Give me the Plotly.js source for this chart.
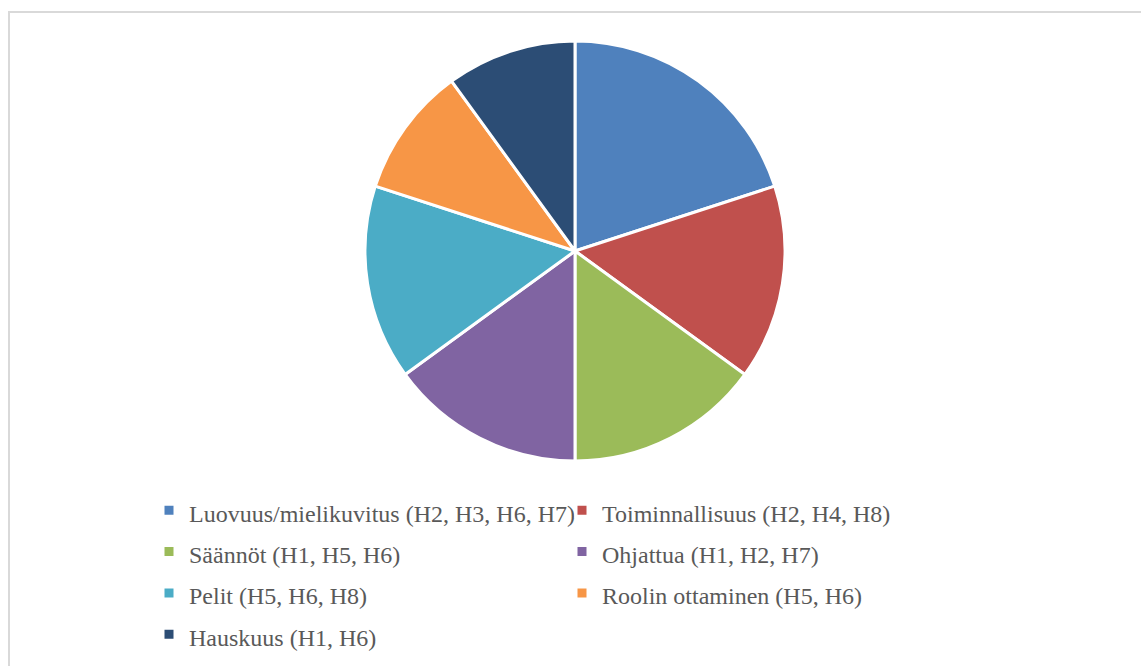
<!DOCTYPE html>
<html>
<head>
<meta charset="utf-8">
<script src="https://cdn.plot.ly/plotly-3.0.1.min.js"></script>
<style>
  html, body { margin: 0; padding: 0; background: #ffffff; }
  #wrap { position: relative; width: 1141px; height: 666px; overflow: hidden; }
  #chart { position: absolute; left: 0; top: 0; width: 1141px; height: 666px; }
  #frame { position: absolute; left: 8px; top: 11px; width: 1200px; height: 700px;
           border-left: 2px solid #d9d9d9; border-top: 2px solid #d9d9d9; pointer-events: none; }
</style>
</head>
<body>
<div id="wrap">
  <div id="chart"></div>
  <div id="frame"></div>
</div>
<script>
// Data
const categories = [
  "Luovuus/mielikuvitus (H2, H3, H6, H7)",
  "Toiminnallisuus (H2, H4, H8)",
  "Säännöt (H1, H5, H6)",
  "Ohjattua (H1, H2, H7)",
  "Pelit (H5, H6, H8)",
  "Roolin ottaminen (H5, H6)",
  "Hauskuus (H1, H6)"
];
const values = [4, 3, 3, 3, 3, 2, 2];
const colors = ["#4f81bd", "#c0504d", "#9bbb59", "#8064a2", "#4bacc6", "#f79646", "#2c4d75"];

const W = 1141, H = 666;
const cx = 575, cy = 251, r = 210;
const serif = 'Liberation Serif, Times New Roman, serif';

const labels = categories.map(c => '<span style="font-size:24px">' + c + '</span>');

const trace = {
  type: 'pie',
  labels: labels,
  values: values,
  sort: false,
  direction: 'clockwise',
  rotation: 0,
  textinfo: 'none',
  hoverinfo: 'label+value+percent',
  marker: { colors: colors, line: { color: '#ffffff', width: 3 } },
  domain: { x: [(cx - r) / W, (cx + r) / W], y: [1 - (cy + r) / H, 1 - (cy - r) / H] }
};

const layout = {
  width: W, height: H,
  margin: { l: 0, r: 0, t: 0, b: 0 },
  paper_bgcolor: '#ffffff',
  showlegend: true,
  legend: {
    orientation: 'h',
    x: 149 / W, xanchor: 'left',
    y: 1 - 484.5 / H, yanchor: 'top',
    entrywidth: 368, entrywidthmode: 'pixels',
    font: { family: serif, size: 29.5, color: '#595959' },
    bgcolor: 'rgba(0,0,0,0)',
    traceorder: 'normal'
  },
  font: { family: serif, color: '#595959' }
};

Plotly.newPlot('chart', [trace], layout, { displayModeBar: false, staticPlot: true });
</script>
</body>
</html>
